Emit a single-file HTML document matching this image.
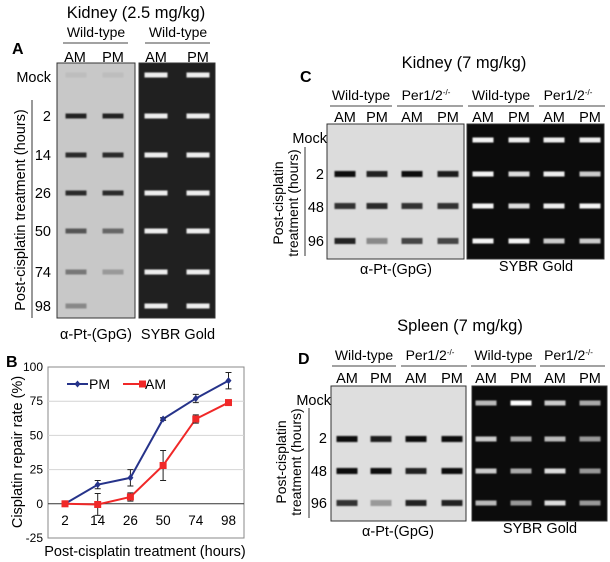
<!DOCTYPE html>
<html><head><meta charset="utf-8"><style>
html,body{margin:0;padding:0;background:#fff;}
svg{display:block;font-family:"Liberation Sans",sans-serif;}
</style></head><body>
<svg id="fig" width="610" height="562" viewBox="0 0 610 562">
<defs><filter id="bl" x="-20%" y="-100%" width="140%" height="300%"><feGaussianBlur stdDeviation="0.7"/></filter></defs>
<!-- Panel A -->
<g>
<text x="136" y="18" font-size="16.5" text-anchor="middle">Kidney (2.5 mg/kg)</text>
<text x="12" y="54" font-size="16" font-weight="bold">A</text>
<text x="96" y="37" font-size="14" text-anchor="middle">Wild-type</text>
<line x1="63" y1="43" x2="128" y2="43" stroke="#444"/>
<text x="178" y="37" font-size="14" text-anchor="middle">Wild-type</text>
<line x1="145" y1="43" x2="210" y2="43" stroke="#444"/>
<text x="75" y="62" font-size="14.5" text-anchor="middle">AM</text>
<text x="113" y="62" font-size="14.5" text-anchor="middle">PM</text>
<text x="156" y="62" font-size="14.5" text-anchor="middle">AM</text>
<text x="198" y="62" font-size="14.5" text-anchor="middle">PM</text>
<text x="51" y="82" font-size="14.5" text-anchor="end">Mock</text>
<text x="51" y="121" font-size="14.5" text-anchor="end">2</text>
<text x="51" y="160" font-size="14.5" text-anchor="end">14</text>
<text x="51" y="198" font-size="14.5" text-anchor="end">26</text>
<text x="51" y="236" font-size="14.5" text-anchor="end">50</text>
<text x="51" y="277" font-size="14.5" text-anchor="end">74</text>
<text x="51" y="311" font-size="14.5" text-anchor="end">98</text>
<line x1="32" y1="100" x2="32" y2="318" stroke="#333"/>
<text transform="translate(25,210) rotate(-90)" font-size="14.5" text-anchor="middle">Post-cisplatin treatment (hours)</text>
<rect x="57" y="63" width="78" height="255" fill="#c8c8c8" stroke="#333"/>
<rect x="139" y="63" width="76" height="255" fill="#202020" stroke="#333"/>
<text x="96" y="339" font-size="14.5" text-anchor="middle">α-Pt-(GpG)</text>
<text x="178" y="339" font-size="14.5" text-anchor="middle">SYBR Gold</text>
<g id="aBands"></g>
</g>
<!-- Panel B -->
<g>
<text x="6" y="367" font-size="16" font-weight="bold">B</text>
<g id="chartB"></g>
</g>
<!-- Panel C -->
<g>
<text x="464" y="68" font-size="16.5" text-anchor="middle">Kidney (7 mg/kg)</text>
<text x="300" y="82" font-size="16" font-weight="bold">C</text>
<g id="cHead"></g>
<rect x="327" y="124" width="137" height="135" fill="#dcdcdc" stroke="#333"/>
<rect x="467" y="124" width="137" height="135" fill="#0c0c0c" stroke="#333"/>
<text x="327" y="143" font-size="14.5" text-anchor="end">Mock</text>
<text x="324" y="179" font-size="14.5" text-anchor="end">2</text>
<text x="324" y="212" font-size="14.5" text-anchor="end">48</text>
<text x="324" y="246" font-size="14.5" text-anchor="end">96</text>
<line x1="305" y1="147" x2="305" y2="256" stroke="#333"/>
<text transform="translate(283,203) rotate(-90)" font-size="14" text-anchor="middle">Post-cisplatin</text>
<text transform="translate(298,203) rotate(-90)" font-size="14" text-anchor="middle">treatment (hours)</text>
<text x="396" y="274" font-size="14.5" text-anchor="middle">α-Pt-(GpG)</text>
<text x="536" y="271" font-size="14.5" text-anchor="middle">SYBR Gold</text>
<g id="cBands"></g>
</g>
<!-- Panel D -->
<g>
<text x="460" y="331" font-size="16.5" text-anchor="middle">Spleen (7 mg/kg)</text>
<text x="298" y="364" font-size="16" font-weight="bold">D</text>
<g id="dHead"></g>
<rect x="331" y="386" width="135" height="135" fill="#dedede" stroke="#333"/>
<rect x="472" y="386" width="135" height="135" fill="#0c0c0c" stroke="#333"/>
<text x="331" y="405" font-size="14.5" text-anchor="end">Mock</text>
<text x="327" y="443" font-size="14.5" text-anchor="end">2</text>
<text x="327" y="476" font-size="14.5" text-anchor="end">48</text>
<text x="327" y="508" font-size="14.5" text-anchor="end">96</text>
<line x1="309" y1="408" x2="309" y2="518" stroke="#333"/>
<text transform="translate(286,462) rotate(-90)" font-size="14" text-anchor="middle">Post-cisplatin</text>
<text transform="translate(301,462) rotate(-90)" font-size="14" text-anchor="middle">treatment (hours)</text>
<text x="398" y="536" font-size="14.5" text-anchor="middle">α-Pt-(GpG)</text>
<text x="540" y="533" font-size="14.5" text-anchor="middle">SYBR Gold</text>
<g id="dBands"></g>
</g>
</svg>
<script>
// Chart B data
const hours = ["2","14","26","50","74","98"];
const pmValues = [0, 14, 19, 62, 77, 90];
const pmErrors = [0, 3, 6, 1, 3, 6];
const amValues = [0, -0.5, 5, 28, 62, 74];
const amErrors = [0, 8, 3, 11, 3, 1];
const yTicks = [100, 75, 50, 25, 0, -25];

const NS = "http://www.w3.org/2000/svg";
function mk(parent, tag, attrs, text) {
  const e = document.createElementNS(NS, tag);
  for (const k in attrs) e.setAttribute(k, attrs[k]);
  if (text !== undefined) e.textContent = text;
  parent.appendChild(e);
  return e;
}

// Chart B
(function () {
  const g = document.getElementById("chartB");
  const L = 48, R = 244, T = 367, B = 538;
  const y = v => T + (100 - v) / 125 * (B - T);
  const x = i => 65 + i * 32.7;
  const box = mk(g, "rect", {x: L, y: T, width: R - L, height: B - T, fill: "none", stroke: "#888"});
  
  
  yTicks.forEach(t => {
    if (t !== 100 && t !== -25) {
      const gl = mk(g, "line", {x1: L, x2: R, y1: y(t), y2: y(t), stroke: t === 0 ? "#333" : "#d4d4d4"});
      
      
    }
    const tl = mk(g, "text", {x: L - 5, y: y(t) + 4, "font-size": 12, "text-anchor": "end"}, String(t));
    
    
  });
  hours.forEach((h, i) => {
    const tl = mk(g, "text", {x: x(i), y: 525, "font-size": 13.5, "text-anchor": "middle"}, h);
    
    
  });
  const yt = mk(g, "text", {transform: "translate(22,452) rotate(-90)", "font-size": 14.5, "text-anchor": "middle"}, "Cisplatin repair rate (%)");
  
  
  const xt = mk(g, "text", {x: 145, y: 556, "font-size": 14.5, "text-anchor": "middle"}, "Post-cisplatin treatment (hours)");
  
  

  function series(vals, errs, color, name, square) {
    const pts = vals.map((v, i) => x(i) + "," + y(v)).join(" ");
    const pl = mk(g, "polyline", {points: pts, fill: "none", stroke: color, "stroke-width": 2});
    
    
    vals.forEach((v, i) => {
      if (errs[i] > 0) {
        const eb = mk(g, "path", {d: `M${x(i)},${y(v + errs[i])}V${y(v - errs[i])}M${x(i) - 3},${y(v + errs[i])}h6M${x(i) - 3},${y(v - errs[i])}h6`, stroke: "#222", "stroke-width": 1, fill: "none"});
        
        
      }
      let m;
      if (square) m = mk(g, "rect", {x: x(i) - 3.5, y: y(v) - 3.5, width: 7, height: 7, fill: color});
      else m = mk(g, "path", {d: `M${x(i)},${y(v) - 3.5}l3,3.5l-3,3.5l-3,-3.5z`, fill: color});
      
      
    });
  }
  series(pmValues, pmErrors, "#26338a", "pm", false);
  series(amValues, amErrors, "#f02828", "am", true);
  // legend
  const l1 = mk(g, "line", {x1: 67, x2: 88, y1: 384, y2: 384, stroke: "#26338a", "stroke-width": 2});
  
  
  const d1 = mk(g, "path", {d: "M77.5,380.5l3,3.5l-3,3.5l-3,-3.5z", fill: "#26338a"});
  
  
  const t1 = mk(g, "text", {x: 89, y: 389, "font-size": 14}, "PM");
  
  
  const l2 = mk(g, "line", {x1: 123, x2: 143, y1: 384, y2: 384, stroke: "#f02828", "stroke-width": 2});
  
  
  const d2 = mk(g, "rect", {x: 139, y: 380.5, width: 7, height: 7, fill: "#f02828"});
  
  
  const t2 = mk(g, "text", {x: 145, y: 389, "font-size": 14}, "AM");
  
  
})();

// Blot bands
function bands(gid, lanesX, rowsY, w, h, colors) {
  const g = document.getElementById(gid);
  rowsY.forEach((ry, r) => lanesX.forEach((lx, l) => {
    const c = colors[r][l];
    if (!c) return;
    const b = mk(g, "rect", {x: lx - w / 2, y: ry - h / 2, width: w, height: h, fill: c, filter: "url(#bl)"});
    
    
  }));
}
const aRows = [75, 116, 155, 193, 231, 272, 306];
bands("aBands", [76, 113], aRows, 21, 5, [["#bdbdbd","#bdbdbd"],["#222","#222"],["#2a2a2a","#2a2a2a"],["#2a2a2a","#2a2a2a"],["#555","#666"],["#777","#999"],["#888",null]]);
bands("aBands", [156, 198], aRows, 23, 5, aRows.map(() => ["#eee", "#eee"]));

function header(gid, cx, yGroup, yLine, yLane) {
  const g = document.getElementById(gid);
  const groups = ["Wild-type", "Per1/2", "Wild-type", "Per1/2"];
  for (let k = 0; k < 4; k++) {
    const c = (cx[2 * k] + cx[2 * k + 1]) / 2;
    const t = mk(g, "text", {x: c - (k % 2 ? 4 : 0), y: yGroup, "font-size": 14, "text-anchor": "middle"}, groups[k]);
    
    
    if (k % 2) {
      const s = mk(t, "tspan", {"font-size": 8, dy: -5}, "-/-");
    }
    const ln = mk(g, "line", {x1: cx[2 * k] - 15, x2: cx[2 * k + 1] + 15, y1: yLine, y2: yLine, stroke: "#444"});
    
    
    ["AM", "PM"].forEach((s, j) => {
      const lt = mk(g, "text", {x: cx[2 * k + j], y: yLane, "font-size": 14.5, "text-anchor": "middle"}, s);
      
      
    });
  }
}
const cLanes = [345, 377, 412, 448, 483, 519, 554, 590];
header("cHead", cLanes, 100, 106, 122);
const cRows = [140, 174, 206, 241];
bands("cBands", cLanes.slice(0, 4), cRows, 21, 6, [[null,null,null,null],["#111","#222","#111","#1a1a1a"],["#333","#2a2a2a","#333","#333"],["#222","#888","#444","#444"]]);
bands("cBands", cLanes.slice(4), cRows, 21, 5, [["#f4f4f4","#eee","#eee","#eee"],["#f4f4f4","#ddd","#eee","#ccc"],["#f4f4f4","#ddd","#eee","#f4f4f4"],["#f4f4f4","#f4f4f4","#ccc","#ccc"]]);

const dLanes = [347, 381, 416, 452, 486, 521, 555, 590];
header("dHead", dLanes, 360, 366, 383);
const dRows = [403, 439, 471, 503];
bands("dBands", dLanes.slice(0, 4), dRows, 21, 6, [[null,null,null,null],["#111","#1a1a1a","#111","#111"],["#111","#111","#222","#111"],["#333","#999","#222","#222"]]);
bands("dBands", dLanes.slice(4), dRows, 21, 5, [["#bbb","#fff","#ccc","#aaa"],["#ccc","#aaa","#bbb","#999"],["#ccc","#aaa","#ddd","#999"],["#bbb","#999","#ddd","#999"]]);
</script>
</body></html>
